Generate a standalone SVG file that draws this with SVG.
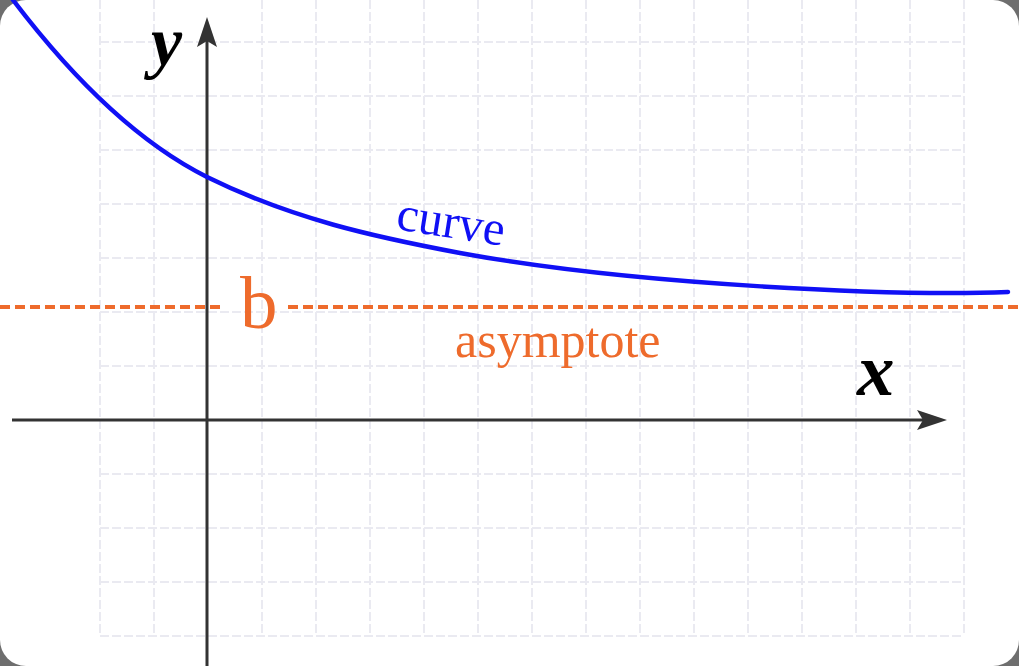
<svg xmlns="http://www.w3.org/2000/svg" width="1019" height="666" viewBox="0 0 1019 666">
  <style>
    .grid line { stroke: #eaeaf1; stroke-width: 2; stroke-dasharray: 9 3; }
    .axis { stroke: #333333; stroke-width: 3; fill: none; }
    .head { fill: #333333; }
    .lbl { font-family: "Liberation Serif", "Times New Roman", serif; }
    .orange { fill: #ee6b2c; }
  </style>
  <rect x="0" y="0" width="1019" height="666" fill="#6e6e6e"/>
  <rect x="0" y="0" width="1019" height="666" rx="26" ry="26" fill="#ffffff"/>
  <g id="grid" class="grid">
    <line x1="100" y1="0" x2="100" y2="636"/>
    <line x1="154" y1="0" x2="154" y2="636"/>
    <line x1="262" y1="0" x2="262" y2="636"/>
    <line x1="316" y1="0" x2="316" y2="636"/>
    <line x1="370" y1="0" x2="370" y2="636"/>
    <line x1="424" y1="0" x2="424" y2="636"/>
    <line x1="478" y1="0" x2="478" y2="636"/>
    <line x1="532" y1="0" x2="532" y2="636"/>
    <line x1="586" y1="0" x2="586" y2="636"/>
    <line x1="640" y1="0" x2="640" y2="636"/>
    <line x1="694" y1="0" x2="694" y2="636"/>
    <line x1="748" y1="0" x2="748" y2="636"/>
    <line x1="802" y1="0" x2="802" y2="636"/>
    <line x1="856" y1="0" x2="856" y2="636"/>
    <line x1="910" y1="0" x2="910" y2="636"/>
    <line x1="964" y1="0" x2="964" y2="636"/>
    <line x1="100" y1="42" x2="964" y2="42"/>
    <line x1="100" y1="96" x2="964" y2="96"/>
    <line x1="100" y1="150" x2="964" y2="150"/>
    <line x1="100" y1="204" x2="964" y2="204"/>
    <line x1="100" y1="258" x2="964" y2="258"/>
    <line x1="100" y1="312" x2="964" y2="312"/>
    <line x1="100" y1="366" x2="964" y2="366"/>
    <line x1="100" y1="474" x2="964" y2="474"/>
    <line x1="100" y1="528" x2="964" y2="528"/>
    <line x1="100" y1="582" x2="964" y2="582"/>
    <line x1="100" y1="636" x2="964" y2="636"/>
  </g>
  <g id="asymptote">
    <path d="M0,307 H225 M288,307 H1019" stroke="#ee6b2c" stroke-width="4" stroke-dasharray="10 5" fill="none"/>
    <text class="lbl orange" x="240" y="328" font-size="75">b</text>
    <text class="lbl orange" x="455" y="357" font-size="50">asymptote</text>
  </g>
  <g id="axes">
    <line class="axis" x1="207" y1="666" x2="207" y2="40"/>
    <path class="head" d="M207,17 L217,47 L207,41 L197,47 Z"/>
    <line class="axis" x1="12" y1="420" x2="925" y2="420"/>
    <path class="head" d="M947,420 L917,410 L923,420 L917,430 Z"/>
    <text class="lbl" x="151" y="65" font-size="70" font-weight="bold" font-style="italic">y</text>
    <text class="lbl" x="857" y="395" font-size="75" font-weight="bold" font-style="italic">x</text>
  </g>
  <g id="curve">
    <path d="M13,0 C70,75 137,142 207,177 C292,219 375,237 460,253 C640,286 900,296 1008,292" stroke="#1010f5" stroke-width="4.5" fill="none" stroke-linecap="round"/>
    <text class="lbl" x="0" y="0" font-size="49" fill="#1010f5" transform="translate(395,229) rotate(9)">curve</text>
  </g>
</svg>
